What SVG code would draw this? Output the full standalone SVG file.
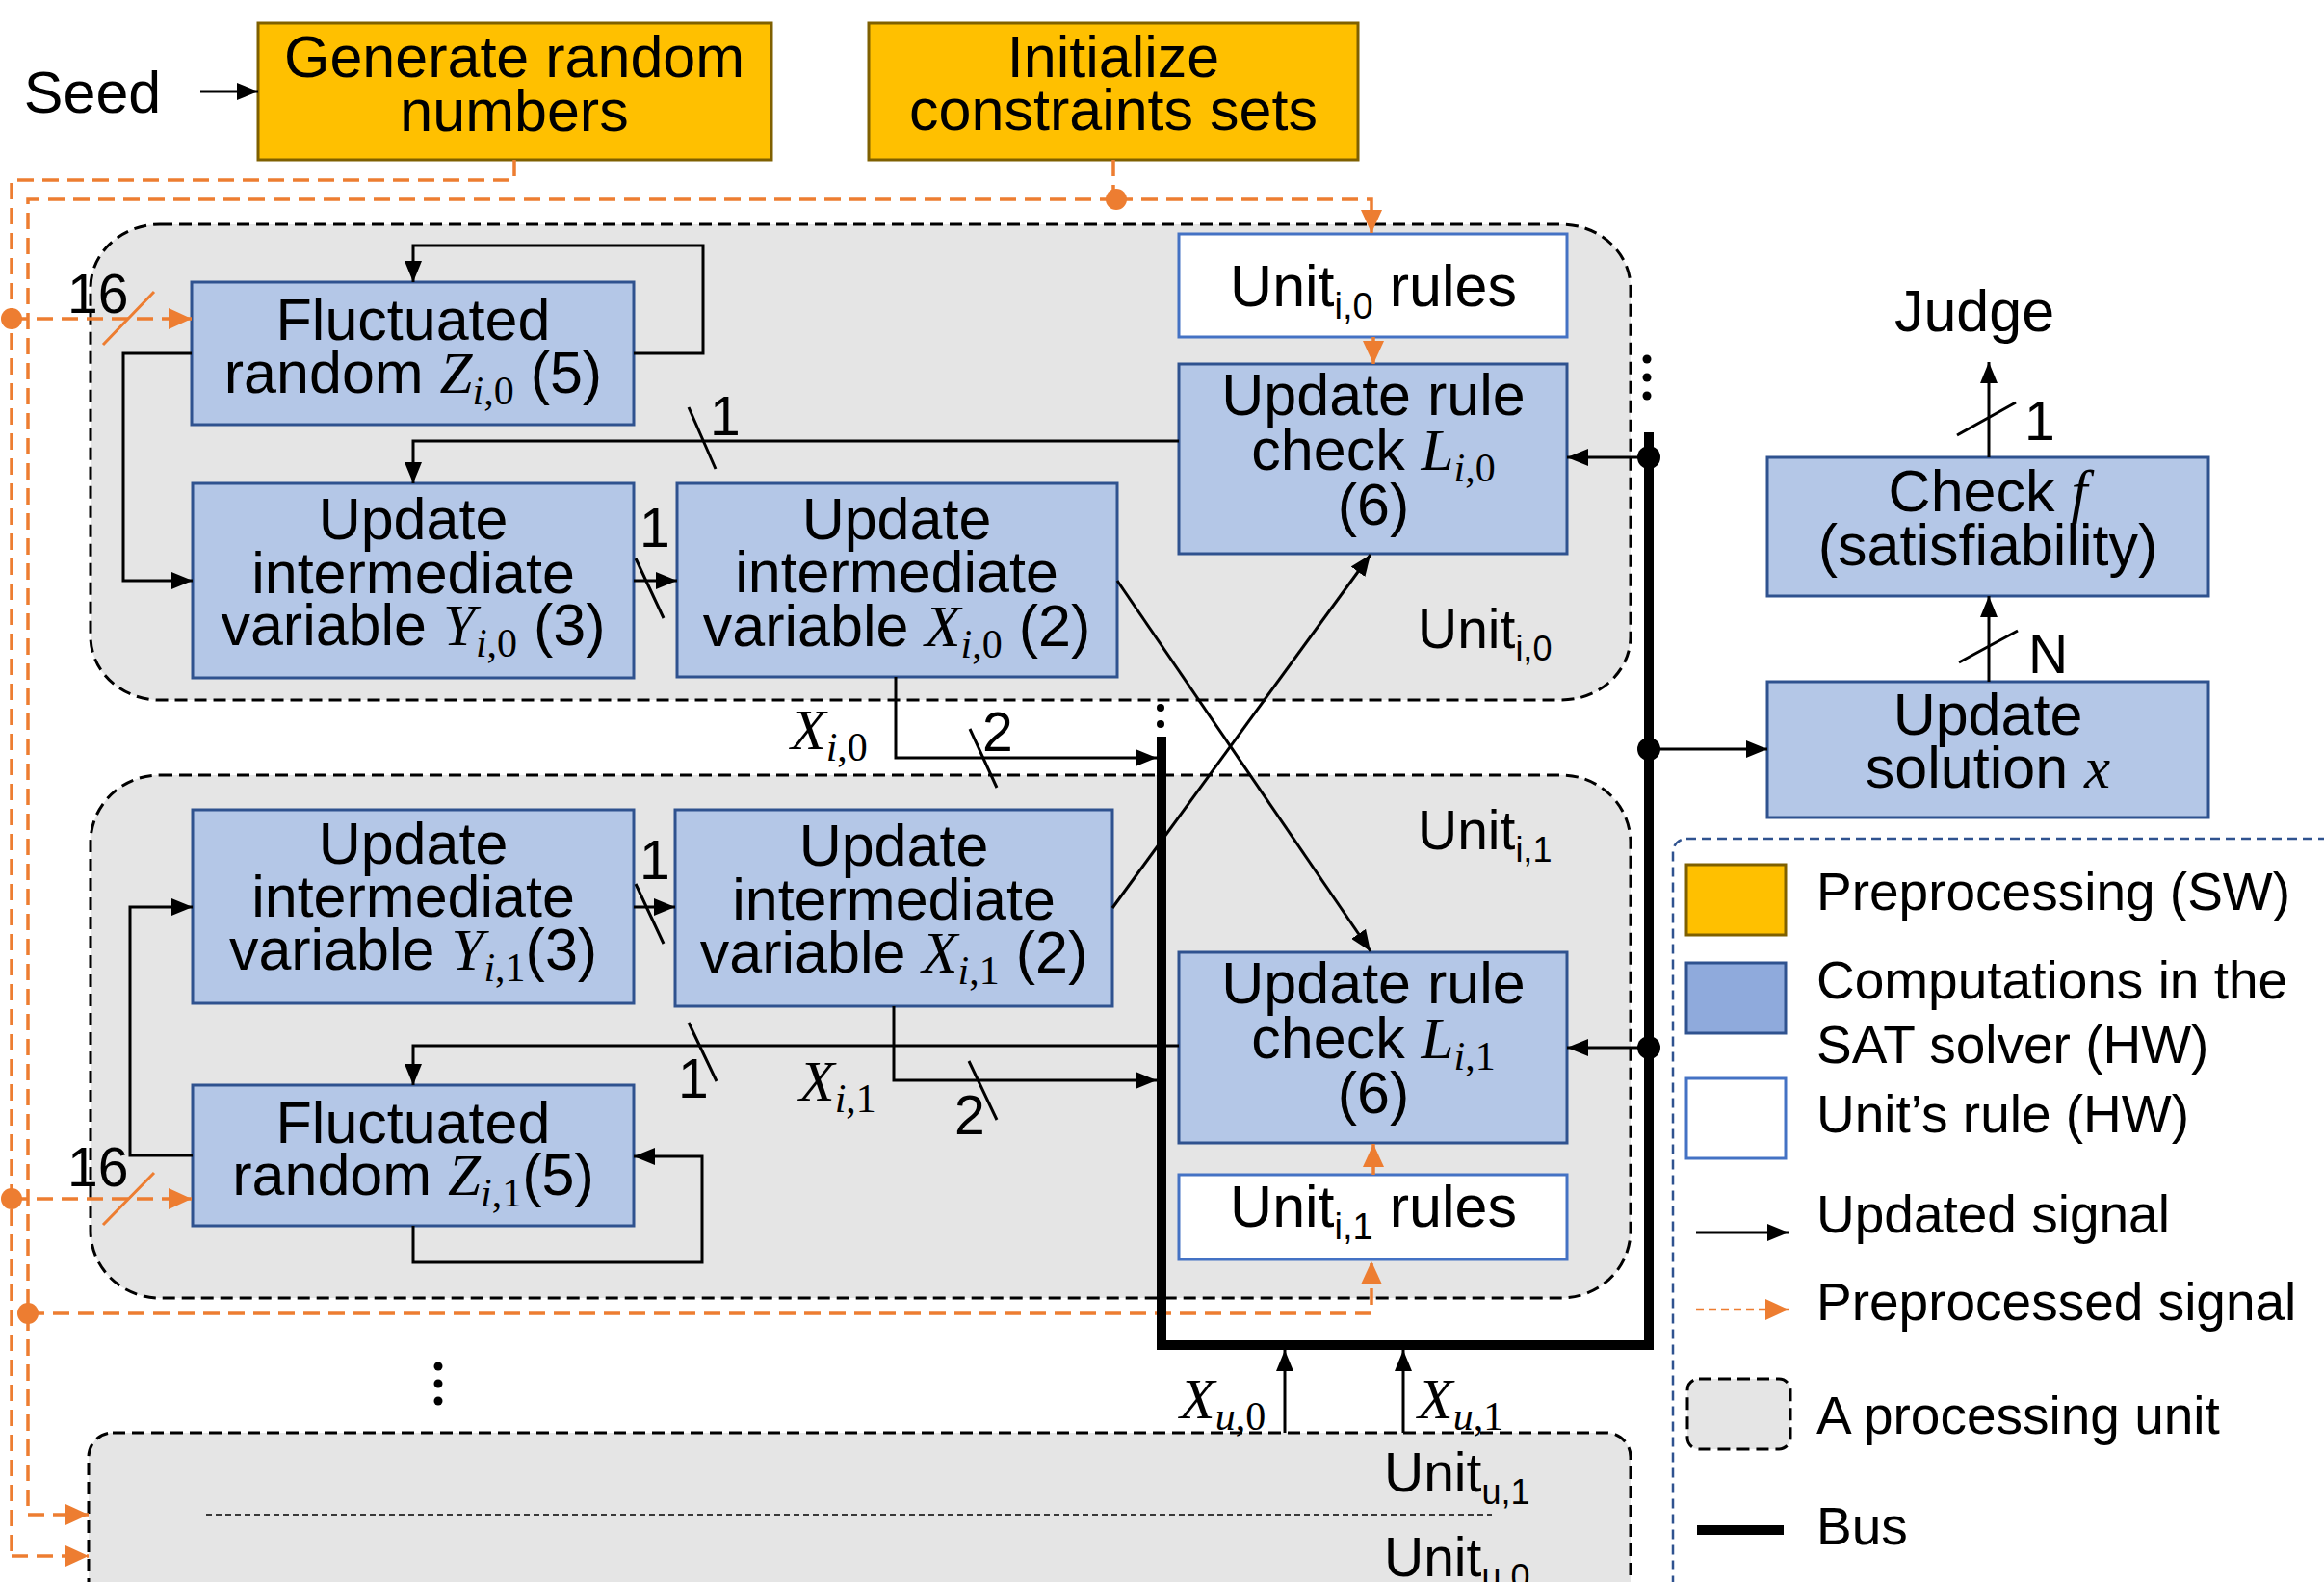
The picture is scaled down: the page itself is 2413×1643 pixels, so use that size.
<svg xmlns="http://www.w3.org/2000/svg" width="2413" height="1643" viewBox="0 0 2413 1643">
<defs>
<style>
.box{fill:#B4C7E7;stroke:#2F528F;stroke-width:3}
.pre{fill:#FFC000;stroke:#7F6000;stroke-width:3}
.rule{fill:#fff;stroke:#4472C4;stroke-width:3}
.unit{fill:#E5E5E5;stroke:#000;stroke-width:3;stroke-dasharray:13 7}
text{font-family:"Liberation Sans",Arial,sans-serif;fill:#000}
.t{font-size:61px;text-anchor:middle}
.lab{font-size:57px}
.lg{font-size:55px}
.m{font-family:"Liberation Serif","Times New Roman",serif;font-style:italic}
.sr{font-family:"Liberation Serif","Times New Roman",serif;font-size:42px}
.w{fill:none;stroke:#000;stroke-width:3}
.wa{fill:none;stroke:#000;stroke-width:3;marker-end:url(#ah)}
.o{fill:none;stroke:#ED7D31;stroke-width:3.5;stroke-dasharray:17 9}
.oa{fill:none;stroke:#ED7D31;stroke-width:3.5;stroke-dasharray:17 9;marker-end:url(#oh)}
.os{fill:none;stroke:#ED7D31;stroke-width:3.5;marker-end:url(#oh)}
.sl{fill:none;stroke:#ED7D31;stroke-width:3}
.bus{fill:none;stroke:#000;stroke-width:10}
.dot{fill:#000}
.odot{fill:#ED7D31}
</style>
<marker id="ah" viewBox="0 0 22 18" refX="22" refY="9" markerWidth="22" markerHeight="18" markerUnits="userSpaceOnUse" orient="auto"><path d="M0,0L22,9L0,18z" fill="#000"/></marker>
<marker id="oh" viewBox="0 0 24 22" refX="24" refY="11" markerWidth="24" markerHeight="22" markerUnits="userSpaceOnUse" orient="auto"><path d="M0,0L24,11L0,22z" fill="#ED7D31"/></marker>
</defs>

<!-- processing units (background) -->
<g id="unit-i0"><rect class="unit" x="94" y="233" width="1599" height="494" rx="72" ry="66"/><text class="lab" x="1472" y="673">Unit<tspan font-size="36" dy="13">i,0</tspan></text></g>
<g id="unit-i1"><rect class="unit" x="94" y="805" width="1599" height="543" rx="72" ry="70"/><text class="lab" x="1472" y="882">Unit<tspan font-size="36" dy="13">i,1</tspan></text></g>
<g id="unit-u"><rect class="unit" x="92" y="1488" width="1601" height="320" rx="25"/><path d="M214,1573H1549" fill="none" stroke="#000" stroke-width="1.5" stroke-dasharray="6 4"/><text class="lab" x="1437" y="1549">Unit<tspan font-size="36" dy="13">u,1</tspan></text><text class="lab" x="1437" y="1637">Unit<tspan font-size="36" dy="13">u,0</tspan></text></g>

<!-- preprocessing (software) -->
<g id="seed"><text class="t" x="96" y="117">Seed</text></g>
<g id="gen-random"><rect class="pre" x="268" y="24" width="533" height="142"/><text class="t" x="534" y="80">Generate random</text><text class="t" x="534" y="136">numbers</text></g>
<g id="init-constraints"><rect class="pre" x="902" y="24" width="508" height="142"/><text class="t" x="1156" y="80">Initialize</text><text class="t" x="1156" y="135">constraints sets</text></g>

<!-- unit i,0 -->
<g id="rand-z-i0"><rect class="box" x="199" y="293" width="459" height="148"/><text class="t" x="429" y="353">Fluctuated</text><text class="t" x="429" y="408">random <tspan class="m">Z</tspan><tspan class="sr" dy="12"><tspan class="m">i</tspan>,0</tspan><tspan dy="-12"> (5)</tspan></text></g>
<g id="var-y-i0"><rect class="box" x="200" y="502" width="458" height="202"/><text class="t" x="429" y="560">Update</text><text class="t" x="429" y="616">intermediate</text><text class="t" x="429" y="670">variable <tspan class="m">Y</tspan><tspan class="sr" dy="12"><tspan class="m">i</tspan>,0</tspan><tspan dy="-12"> (3)</tspan></text></g>
<g id="var-x-i0"><rect class="box" x="703" y="502" width="457" height="201"/><text class="t" x="931" y="560">Update</text><text class="t" x="931" y="615">intermediate</text><text class="t" x="931" y="671">variable <tspan class="m">X</tspan><tspan class="sr" dy="12"><tspan class="m">i</tspan>,0</tspan><tspan dy="-12"> (2)</tspan></text></g>
<g id="rules-i0"><rect class="rule" x="1224" y="243" width="403" height="107"/><text class="t" x="1426" y="318">Unit<tspan font-size="38" dy="13">i,0</tspan><tspan dy="-13"> rules</tspan></text></g>
<g id="check-l-i0"><rect class="box" x="1224" y="378" width="403" height="197"/><text class="t" x="1426" y="431">Update rule</text><text class="t" x="1426" y="488">check <tspan class="m">L</tspan><tspan class="sr" dy="12"><tspan class="m">i</tspan>,0</tspan></text><text class="t" x="1426" y="545">(6)</text></g>

<!-- unit i,1 -->
<g id="var-y-i1"><rect class="box" x="200" y="841" width="458" height="201"/><text class="t" x="429" y="897">Update</text><text class="t" x="429" y="952">intermediate</text><text class="t" x="429" y="1007">variable <tspan class="m">Y</tspan><tspan class="sr" dy="12"><tspan class="m">i</tspan>,1</tspan><tspan dy="-12">(3)</tspan></text></g>
<g id="var-x-i1"><rect class="box" x="701" y="841" width="454" height="204"/><text class="t" x="928" y="899">Update</text><text class="t" x="928" y="955">intermediate</text><text class="t" x="928" y="1010">variable <tspan class="m">X</tspan><tspan class="sr" dy="12"><tspan class="m">i</tspan>,1</tspan><tspan dy="-12"> (2)</tspan></text></g>
<g id="rand-z-i1"><rect class="box" x="200" y="1127" width="458" height="146"/><text class="t" x="429" y="1187">Fluctuated</text><text class="t" x="429" y="1241">random <tspan class="m">Z</tspan><tspan class="sr" dy="12"><tspan class="m">i</tspan>,1</tspan><tspan dy="-12">(5)</tspan></text></g>
<g id="check-l-i1"><rect class="box" x="1224" y="989" width="403" height="198"/><text class="t" x="1426" y="1042">Update rule</text><text class="t" x="1426" y="1099">check <tspan class="m">L</tspan><tspan class="sr" dy="12"><tspan class="m">i</tspan>,1</tspan></text><text class="t" x="1426" y="1156">(6)</text></g>
<g id="rules-i1"><rect class="rule" x="1224" y="1220" width="403" height="88"/><text class="t" x="1426" y="1274">Unit<tspan font-size="38" dy="13">i,1</tspan><tspan dy="-13"> rules</tspan></text></g>

<!-- solution check -->
<g id="judge"><text class="t" x="2050" y="344">Judge</text></g>
<g id="check-f"><rect class="box" x="1835" y="475" width="458" height="144"/><text class="t" x="2064" y="531">Check <tspan class="m">f</tspan></text><text class="t" x="2064" y="587">(satisfiability)</text></g>
<g id="update-x"><rect class="box" x="1835" y="708" width="458" height="141"/><text class="t" x="2064" y="763">Update</text><text class="t" x="2064" y="818">solution <tspan class="m">x</tspan></text></g>

<!-- connectors -->
<g id="connectors">
  <!-- preprocessed signals -->
  <path class="o" d="M534,166V187H12V1616"/>
  <path class="oa" d="M12,1616H92"/>
  <path class="oa" d="M12,331H199"/>
  <path class="oa" d="M12,1245H199"/>
  <path class="o" d="M1156,166V207"/>
  <path class="oa" d="M1159,207H1424V242"/>
  <path class="o" d="M1159,207H29V1573"/>
  <path class="oa" d="M29,1573H92"/>
  <path class="oa" d="M29,1364H1424V1310"/>
  <path class="os" d="M1426,350V378"/>
  <path class="os" d="M1426,1220V1188"/>
  <circle class="odot" cx="12" cy="331" r="11"/>
  <circle class="odot" cx="12" cy="1245" r="11"/>
  <circle class="odot" cx="1159" cy="207" r="11"/>
  <circle class="odot" cx="29" cy="1364" r="11"/>
  <path class="sl" d="M107,358L160,303M107,1272L160,1218"/>
  <text class="lab" x="70" y="325">16</text>
  <text class="lab" x="70" y="1232">16</text>

  <!-- bus -->
  <path class="bus" d="M1712,449V1397H1206V765"/>
  <circle class="dot" cx="1712" cy="475" r="12"/>
  <circle class="dot" cx="1712" cy="778" r="12"/>
  <circle class="dot" cx="1712" cy="1088" r="12"/>
  <circle class="dot" cx="1710" cy="373" r="4.5"/>
  <circle class="dot" cx="1710" cy="392" r="4.5"/>
  <circle class="dot" cx="1710" cy="411" r="4.5"/>
  <circle class="dot" cx="1205" cy="735" r="4"/>
  <circle class="dot" cx="1205" cy="752" r="4"/>
  <circle class="dot" cx="455" cy="1419" r="4.5"/>
  <circle class="dot" cx="455" cy="1437" r="4.5"/>
  <circle class="dot" cx="455" cy="1455" r="4.5"/>

  <!-- updated signals -->
  <path class="wa" d="M208,95H268"/>
  <path class="wa" d="M658,367H730V255H429V293"/>
  <path class="wa" d="M199,367H128V603H200"/>
  <path class="wa" d="M1224,458H429V502"/>
  <path class="wa" d="M658,603H703"/>
  <path class="wa" d="M1160,603L1423,988"/>
  <path class="wa" d="M1155,943L1423,576"/>
  <path class="wa" d="M930,703V787H1201"/>
  <path class="wa" d="M1712,475H1627"/>
  <path class="wa" d="M1712,778H1835"/>
  <path class="wa" d="M1712,1088H1627"/>
  <path class="wa" d="M2065,708V619"/>
  <path class="wa" d="M2065,475V376"/>
  <path class="wa" d="M658,942H701"/>
  <path class="wa" d="M200,1200H135V942H200"/>
  <path class="wa" d="M429,1273V1311H729V1201H658"/>
  <path class="wa" d="M1224,1086H429V1127"/>
  <path class="wa" d="M928,1045V1122H1201"/>
  <path class="wa" d="M1334,1488V1402"/>
  <path class="wa" d="M1457,1488V1402"/>

  <!-- bit-width marks -->
  <path class="w" d="M715,423L743,487M660,580L689,642M1007,757L1035,818M2032,452L2093,418M2034,688L2095,655M660,918L689,980M715,1062L744,1123M1006,1102L1035,1163"/>
  <text class="lab" x="737" y="452">1</text>
  <text class="lab" x="664" y="568">1</text>
  <text class="lab" x="1020" y="780">2</text>
  <text class="lab" x="2102" y="457">1</text>
  <text class="lab" x="2106" y="699">N</text>
  <text class="lab" x="664" y="913">1</text>
  <text class="lab" x="704" y="1140">1</text>
  <text class="lab" x="991" y="1178">2</text>

  <!-- signal names -->
  <text font-size="60" x="821" y="778"><tspan class="m">X</tspan><tspan class="sr" dy="12"><tspan class="m">i</tspan>,0</tspan></text>
  <text font-size="60" x="830" y="1143"><tspan class="m">X</tspan><tspan class="sr" dy="12"><tspan class="m">i</tspan>,1</tspan></text>
  <text font-size="60" x="1225" y="1473"><tspan class="m">X</tspan><tspan class="sr" dy="12"><tspan class="m">u</tspan>,0</tspan></text>
  <text font-size="60" x="1472" y="1473"><tspan class="m">X</tspan><tspan class="sr" dy="12"><tspan class="m">u</tspan>,1</tspan></text>
</g>

<!-- legend -->
<g id="legend">
  <rect x="1737" y="871" width="800" height="900" rx="14" fill="none" stroke="#2F528F" stroke-width="2.5" stroke-dasharray="10 6"/>
  <rect class="pre" x="1751" y="898" width="103" height="73"/>
  <text class="lg" x="1886" y="945">Preprocessing (SW)</text>
  <rect x="1751" y="1000" width="103" height="73" fill="#8FAADC" stroke="#2F528F" stroke-width="3"/>
  <text class="lg" x="1886" y="1037">Computations in the</text>
  <text class="lg" x="1886" y="1104">SAT solver (HW)</text>
  <rect class="rule" x="1751" y="1120" width="103" height="83"/>
  <text class="lg" x="1886" y="1176">Unit’s rule (HW)</text>
  <path class="wa" d="M1761,1280H1857"/>
  <text class="lg" x="1886" y="1280">Updated signal</text>
  <path fill="none" stroke="#ED7D31" stroke-width="2.5" stroke-dasharray="8 5" marker-end="url(#oh)" d="M1761,1360H1857"/>
  <text class="lg" x="1886" y="1371">Preprocessed signal</text>
  <rect class="unit" x="1752" y="1432" width="107" height="73" rx="12"/>
  <text class="lg" x="1886" y="1489">A processing unit</text>
  <path class="bus" d="M1762,1589H1852"/>
  <text class="lg" x="1886" y="1604">Bus</text>
</g>
</svg>
